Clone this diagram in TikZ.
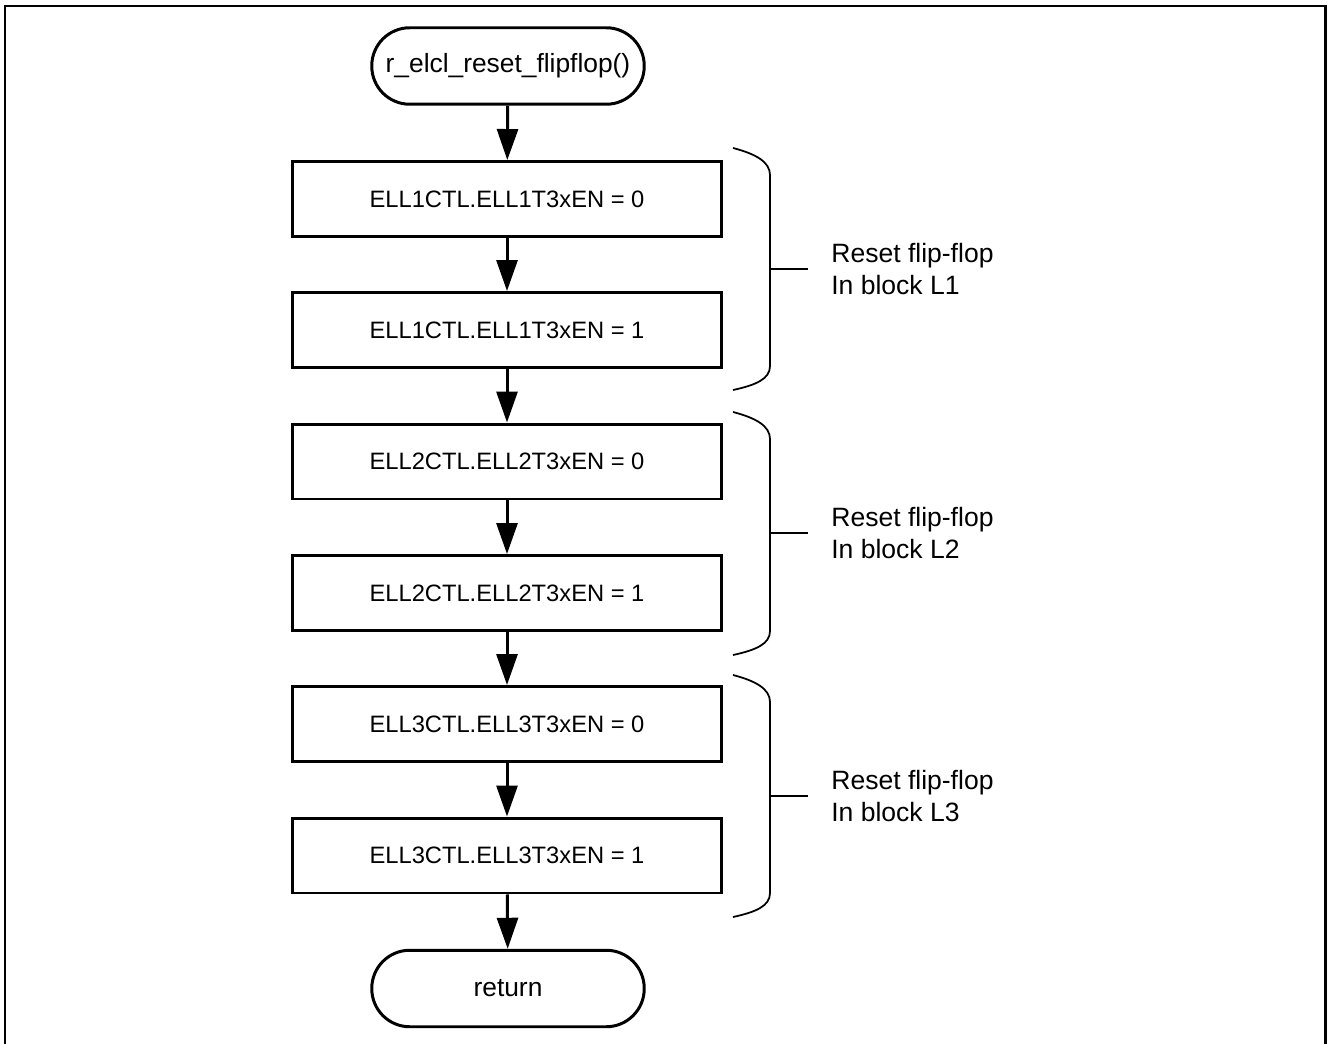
\documentclass[tikz,border=0pt]{standalone}
\usepackage{fontspec}
\setmainfont{Liberation Sans}
\usetikzlibrary{shapes,positioning,calc,arrows.meta}
\usepackage{xcolor}

\tikzset{
  procbox/.style={draw, line width=1.7pt, rectangle, minimum width=8.6cm, minimum height=1.5cm, inner sep=0pt, font=\fontsize{13.5}{18.2}\selectfont},
  termbox/.style={draw, line width=1.7pt, rectangle, rounded corners=0.76cm, minimum width=5.45cm, minimum height=1.53cm, inner sep=0pt, font=\fontsize{15}{18.2}\selectfont},
  flow/.style={line width=1.7pt, -{Triangle[length=0.62cm,width=0.42cm]}},
  bracket/.style={line width=1pt},
  note/.style={align=left, anchor=west, inner sep=0pt, font=\fontsize{15.1}{18.2}\selectfont}
}

\begin{document}
\begin{tikzpicture}[x=0.02cm, y=-0.02cm]
	\useasboundingbox (0,0) rectangle (1328,1044);
	% outer frame
	\draw[line width=1.7pt] (5,1050) -- (5,6) -- (1325,6) -- (1325,1050);

	\node[termbox] (start) at (508,66) {r\_elcl\_reset\_flipflop()};
	\node[procbox] (ell1a) at (507,199) {ELL1CTL.ELL1T3xEN = 0};
	\node[procbox] (ell1b) at (507,330) {ELL1CTL.ELL1T3xEN = 1};
	\node[procbox] (ell2a) at (507,461.5) {ELL2CTL.ELL2T3xEN = 0};
	\node[procbox] (ell2b) at (507,593) {ELL2CTL.ELL2T3xEN = 1};
	\node[procbox] (ell3a) at (507,724) {ELL3CTL.ELL3T3xEN = 0};
	\node[procbox] (ell3b) at (507,855.5) {ELL3CTL.ELL3T3xEN = 1};
	\node[termbox] (ret) at (508,988.5) {return};

	\draw[flow] (start) -- (ell1a);
	\draw[flow] (ell1a) -- (ell1b);
	\draw[flow] (ell1b) -- (ell2a);
	\draw[flow] (ell2a) -- (ell2b);
	\draw[flow] (ell2b) -- (ell3a);
	\draw[flow] (ell3a) -- (ell3b);
	\draw[flow] (ell3b) -- (ret);

	% braces and notes
	\foreach \t/\m/\b/\k in {148/269/390/1, 412/533/655/2, 675/796/917/3} {
		\draw[bracket] (733,\t) .. controls (756,\t+6) and (770,\t+14) .. (770,\t+27)
			-- (770,\b-24) .. controls (770,\b-11) and (756,\b-5) .. (733,\b);
		\draw[bracket] (770,\m) -- (808,\m);
		\node[note] (lbl\k) at (831,\m) {Reset flip-flop\\In block L\k};
	}
\end{tikzpicture}
\end{document}
